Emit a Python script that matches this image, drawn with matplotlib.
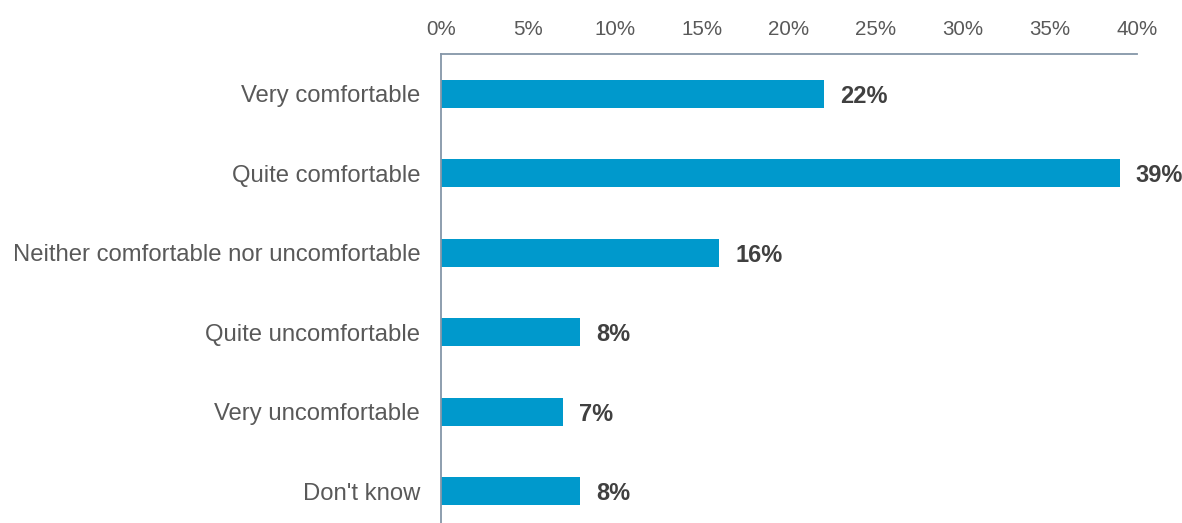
import matplotlib
matplotlib.use("Agg")
import matplotlib.pyplot as plt

plt.rcParams['font.family'] = ['Liberation Sans', 'DejaVu Sans']

# survey answers and shares (%)
categories = ["Very comfortable", "Quite comfortable",
              "Neither comfortable nor uncomfortable",
              "Quite uncomfortable", "Very uncomfortable", "Don't know"]
values = [22, 39, 16, 8, 7, 8]
xticks = [0, 5, 10, 15, 20, 25, 30, 35, 40]

bar_color = '#0099CC'
spine_color = '#8596A8'

fig = plt.figure(figsize=(11.82, 5.23), dpi=100)
ax = fig.add_axes([441/1182, -8/523, (1137-441)/1182, (531-54)/523])

y = list(range(len(categories)))
ax.barh(y, values, height=0.35, color=bar_color)

for yi, v in zip(y, values):
    ax.annotate(f'{v}%', xy=(v, yi), xytext=(11.5, 0), textcoords='offset points',
                ha='left', va='center_baseline', fontsize=17, fontweight='bold', color='#404040')

ax.set_xlim(0, 40)
ax.set_ylim(len(categories) - 0.5, -0.5)
ax.set_xticks(xticks)
ax.set_xticklabels([f'{t}%' for t in xticks])
ax.set_yticks(y)
ax.set_yticklabels(categories)
for lbl in ax.get_yticklabels():
    lbl.set_va('center_baseline')

ax.xaxis.tick_top()
ax.tick_params(axis='x', length=0, pad=11, labelsize=14.8, colors='#595959')
ax.tick_params(axis='y', length=0, pad=15, labelsize=17.2, colors='#595959')

for s in ['right', 'bottom']:
    ax.spines[s].set_visible(False)
for s in ['top', 'left']:
    ax.spines[s].set_color(spine_color)
    ax.spines[s].set_linewidth(1.3)

fig.savefig('out.png', dpi=100)
